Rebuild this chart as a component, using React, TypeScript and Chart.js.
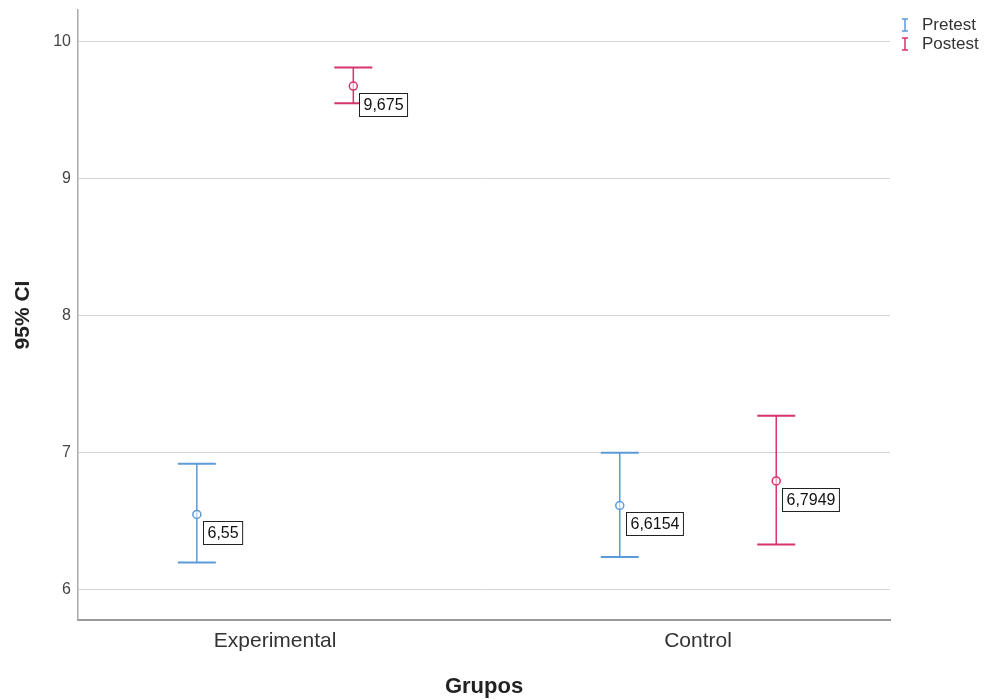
import React, { useEffect, useRef } from "react";
import { Chart, registerables } from "chart.js";

Chart.register(...registerables);

const categories = ["Experimental", "Control"];
const seriesNames = ["Pretest", "Postest"];
const pretestMean = [6.55, 6.6154];
const pretestLower = [6.2, 6.24];
const pretestUpper = [6.92, 7.0];
const postestMean = [9.675, 6.7949];
const postestLower = [9.55, 6.33];
const postestUpper = [9.81, 7.27];
const yTicks = [6, 7, 8, 9, 10];

const colors = ["#5b9bd8", "#d8336b"];
const groupOffset = 0.185;
const FONT = "'Liberation Sans', Arial, sans-serif";

const fmt = (v: number) => String(v).replace(".", ",");

const errorBarPlugin = {
  id: "errorBars",
  beforeDatasetsDraw(chart: any) {
    const { ctx, scales } = chart;
    const ys = scales.y;
    chart.data.datasets.forEach((ds: any, di: number) => {
      const meta = chart.getDatasetMeta(di);
      ctx.save();
      ctx.strokeStyle = ds.borderColor;
      meta.data.forEach((pt: any, i: number) => {
        const x = pt.x;
        const yl = ys.getPixelForValue(ds.lower[i]);
        const yu = ys.getPixelForValue(ds.upper[i]);
        ctx.lineWidth = 1.5;
        ctx.beginPath();
        ctx.moveTo(x, yl);
        ctx.lineTo(x, yu);
        ctx.stroke();
        ctx.lineWidth = 2;
        ctx.beginPath();
        ctx.moveTo(x - 19, yl);
        ctx.lineTo(x + 19, yl);
        ctx.moveTo(x - 19, yu);
        ctx.lineTo(x + 19, yu);
        ctx.stroke();
      });
      ctx.restore();
    });
  },
  afterDatasetsDraw(chart: any) {
    const { ctx } = chart;
    chart.data.datasets.forEach((ds: any, di: number) => {
      const meta = chart.getDatasetMeta(di);
      meta.data.forEach((pt: any, i: number) => {
        const text = fmt(ds.data[i].y);
        ctx.save();
        ctx.font = `16px ${FONT}`;
        const w = ctx.measureText(text).width + 8;
        const h = 23;
        const bx = Math.round(pt.x + 6) + 0.5;
        const by = Math.round(pt.y + 7) + 0.5;
        ctx.fillStyle = "#ffffff";
        ctx.fillRect(bx, by, w, h);
        ctx.strokeStyle = "#222";
        ctx.lineWidth = 1;
        ctx.strokeRect(bx, by, w, h);
        ctx.fillStyle = "#111";
        ctx.textBaseline = "middle";
        ctx.textAlign = "left";
        ctx.fillText(text, bx + 4, by + h / 2 + 1);
        ctx.restore();
      });
    });
  },
  afterDraw(chart: any) {
    const { ctx } = chart;
    ctx.save();
    chart.data.datasets.forEach((ds: any, di: number) => {
      const y = 25 + di * 19;
      const x = 905;
      ctx.strokeStyle = ds.borderColor;
      ctx.lineWidth = 1.5;
      ctx.beginPath();
      ctx.moveTo(x, y - 6);
      ctx.lineTo(x, y + 6);
      ctx.moveTo(x - 3, y - 6);
      ctx.lineTo(x + 3, y - 6);
      ctx.moveTo(x - 3, y + 6);
      ctx.lineTo(x + 3, y + 6);
      ctx.stroke();
      ctx.fillStyle = "#333";
      ctx.font = `17px ${FONT}`;
      ctx.textBaseline = "middle";
      ctx.textAlign = "left";
      ctx.fillText(ds.label, x + 17, y);
    });
    ctx.restore();
  },
};

export default function App() {
  const ref = useRef<HTMLCanvasElement | null>(null);
  useEffect(() => {
    if (!ref.current) return;
    const makeData = (means: number[], sign: number) =>
      means.map((m, i) => ({ x: i + sign * groupOffset, y: m }));
    const chart = new Chart(ref.current, {
      type: "scatter",
      data: {
        datasets: [
          {
            label: seriesNames[0],
            data: makeData(pretestMean, -1),
            lower: pretestLower,
            upper: pretestUpper,
            borderColor: colors[0],
            backgroundColor: "rgba(255,255,255,0.6)",
            pointRadius: 4,
            pointBorderWidth: 1.5,
          } as any,
          {
            label: seriesNames[1],
            data: makeData(postestMean, 1),
            lower: postestLower,
            upper: postestUpper,
            borderColor: colors[1],
            backgroundColor: "rgba(255,255,255,0.6)",
            pointRadius: 4,
            pointBorderWidth: 1.5,
          } as any,
        ],
      },
      options: {
        animation: false,
        responsive: false,
        layout: { padding: { top: 10, right: 94, left: 0, bottom: 0 } },
        plugins: {
          legend: { display: false },
          tooltip: { enabled: false },
        },
        scales: {
          x: {
            type: "linear",
            min: -0.466,
            max: 1.454,
            afterBuildTicks: (s: any) => {
              s.ticks = categories.map((_, i) => ({ value: i }));
            },
            afterFit: (s: any) => {
              s.height = 80;
              s.paddingLeft = 0;
              s.paddingRight = 0;
            },
            ticks: {
              callback: (v: any) => categories[v as number] ?? "",
              font: { family: FONT, size: 21 },
              color: "#333",
              padding: 9,
              maxRotation: 0,
            },
            grid: { display: false, drawTicks: false },
            border: { display: true, color: "#999", width: 2 },
            title: {
              display: true,
              text: "Grupos",
              font: { family: FONT, size: 22, weight: "bold" },
              color: "#222",
              padding: { top: 8, bottom: 0 },
            },
          },
          y: {
            type: "linear",
            min: 5.78,
            max: 10.23,
            afterBuildTicks: (s: any) => {
              s.ticks = yTicks.map((v) => ({ value: v }));
            },
            afterFit: (s: any) => {
              s.width = 78;
              s.paddingTop = 0;
              s.paddingBottom = 0;
            },
            ticks: {
              font: { family: FONT, size: 16 },
              color: "#444",
              padding: 7,
            },
            grid: { color: "#d4d4d4", lineWidth: 1, drawTicks: false },
            border: { display: true, color: "#aaa", width: 1.5 },
            title: {
              display: true,
              text: "95% CI",
              font: { family: FONT, size: 21, weight: "bold" },
              color: "#222",
              padding: { top: 11, bottom: 0 },
            },
          },
        },
      } as any,
      plugins: [errorBarPlugin],
    });
    return () => chart.destroy();
  }, []);
  return (
    <div style={{ position: "absolute", left: 0, top: 0, width: 984, height: 700, background: "#fff" }}>
      <canvas ref={ref} width={984} height={700} style={{ width: 984, height: 700 }} />
    </div>
  );
}
